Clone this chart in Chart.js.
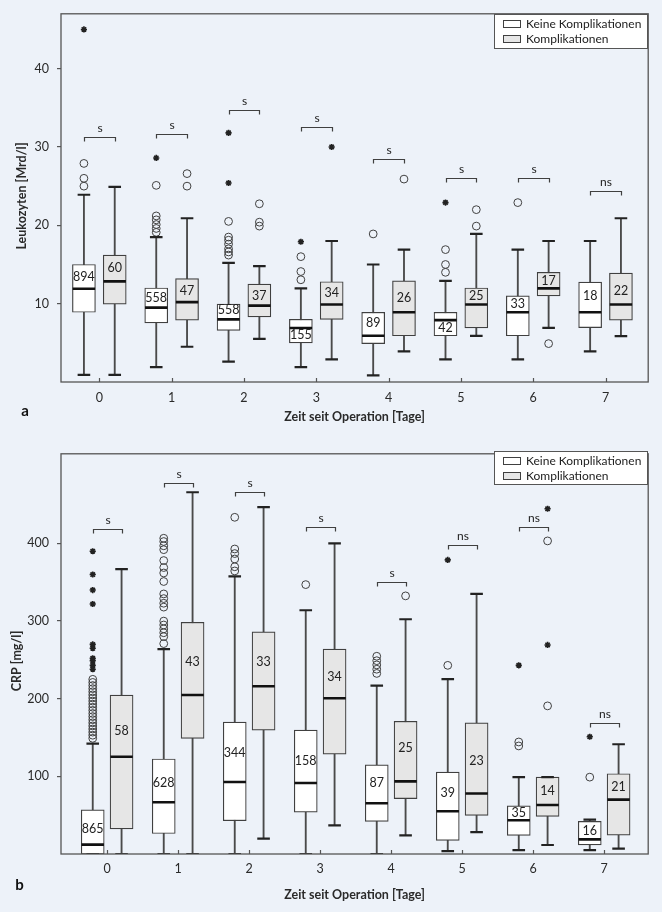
<!DOCTYPE html>
<html lang="de">
  <head>
    <meta charset="UTF-8" />
    <title>Leukozyten und CRP</title>
    <style>
      body { margin: 0; background: #edf2f9; overflow: hidden; }
      .panel { position: absolute; left: 0; }
    </style>
  </head>
  <body>
    <div class="panel" style="top: 0"><canvas id="chartA" width="662" height="440"></canvas></div>
    <div class="panel" style="top: 440px"><canvas id="chartB" width="662" height="472"></canvas></div>

    <script src="https://cdn.jsdelivr.net/npm/chart.js"></script>

    <script>
      // x categories: days after surgery
      const days = [0, 1, 2, 3, 4, 5, 6, 7];
      const groups = ["Keine Komplikationen", "Komplikationen"];

      // Leukozyten [Mrd/l], per day: [min, q1, median, q3, max]
      const leukoKeine = [
        [0.9, 8.9, 11.9, 15.0, 23.9],
        [1.9, 7.55, 9.5, 12.0, 18.5],
        [2.6, 6.6, 8.0, 9.95, 15.2],
        [1.9, 5.0, 6.9, 8.0, 11.95],
        [0.85, 4.9, 5.9, 8.9, 15.0],
        [2.9, 5.9, 7.9, 8.9, 12.9],
        [2.9, 5.9, 8.9, 11.0, 16.9],
        [3.9, 6.95, 8.9, 12.75, 18.0],
      ];
      const leukoKompl = [
        [0.9, 9.95, 12.85, 16.2, 24.9],
        [4.5, 7.9, 10.2, 13.2, 20.9],
        [5.5, 8.3, 9.75, 12.5, 14.8],
        [2.9, 8.0, 9.9, 12.8, 18.0],
        [3.9, 5.9, 8.9, 12.9, 16.9],
        [5.9, 6.9, 9.9, 12.0, 18.9],
        [6.9, 11.0, 11.95, 14.0, 18.0],
        [5.85, 7.9, 9.9, 13.9, 20.9],
      ];
      const leukoNKeine = [894, 558, 558, 155, 89, 42, 33, 18];
      const leukoNKompl = [60, 47, 37, 34, 26, 25, 17, 22];
      const leukoCirclesKeine = [
        [27.9, 26.0, 25.0],
        [25.1, 21.2, 20.7, 20.1, 19.6, 19.1],
        [20.5, 18.5, 18.1, 17.6, 17.0, 16.6, 16.2],
        [16.0, 14.1, 13.05],
        [18.9],
        [16.9, 15.0, 14.0],
        [22.9],
        [],
      ];
      const leukoStarsKeine = [[45.0], [28.6], [31.8, 25.4], [17.9], [], [22.9], [], []];
      const leukoCirclesKompl = [[], [26.6, 25.0], [22.75, 20.4, 19.9], [], [25.9], [22.0, 19.9], [4.9], []];
      const leukoStarsKompl = [[], [], [], [30.0], [], [], [], []];
      const leukoSig = ["s", "s", "s", "s", "s", "s", "s", "ns"];
      const leukoTicks = [10, 20, 30, 40];

      // CRP [mg/l], per day: [min, q1, median, q3, max]
      const crpKeine = [
        [0, 0, 12.1, 56.9, 142.2],
        [0, 26.4, 66.6, 122.4, 264],
        [0, 42.9, 92.8, 170, 357.7],
        [0, 53.9, 91.5, 159.5, 314],
        [0, 42, 65.3, 114.7, 217],
        [3.7, 17.6, 55.1, 105.4, 225.3],
        [4.9, 23.9, 43.4, 61.9, 99],
        [4.9, 11.7, 18.9, 42, 44.2],
      ];
      const crpKompl = [
        [0, 32.4, 125.3, 204.8, 367],
        [0, 149, 204.8, 298.5, 466],
        [19.7, 159.5, 216, 286.2, 446.8],
        [36.9, 128.5, 200.7, 264, 400],
        [24, 71.3, 93.6, 170.9, 302.4],
        [28.2, 49.7, 78, 168.8, 335],
        [11.6, 48.4, 63.2, 99, 99],
        [7, 24.4, 70, 103.4, 141.4],
      ];
      const crpNKeine = [865, 628, 344, 158, 87, 39, 35, 16];
      const crpNKompl = [58, 43, 33, 34, 25, 23, 14, 21];
      const crpCirclesKeine = [
        [225, 221, 217, 213, 209, 205, 201, 197, 193, 189, 185, 181, 177, 173, 169, 165, 161, 157, 153, 149],
        [406.7, 402.5, 397, 392, 378, 369, 362, 351, 335, 329, 323, 318, 300, 295, 290, 285, 280, 271],
        [433.7, 392.9, 387, 380, 370, 364.6],
        [347],
        [254.7, 249, 243.6, 238, 232.6],
        [243],
        [144.3, 139.2],
        [99],
      ];
      const crpStarsKeine = [
        [390, 360, 340, 322, 270, 265, 252, 249, 243, 238],
        [], [], [], [],
        [378.8],
        [243],
        [151],
      ];
      const crpCirclesKompl = [[], [], [], [], [332.5], [], [403.3, 190.8], []];
      const crpStarsKompl = [[], [], [], [], [], [], [444.7, 269.3], []];
      const crpSig = ["s", "s", "s", "s", "s", "ns", "ns", "ns"];
      const crpTicks = [100, 200, 300, 400];

      // placement of the annotations (value on the y axis)
      const leukoNPosKeine = [13.4, 10.7, 9.25, 5.95, 7.55, 6.85, 10.0, 11.0];
      const leukoNPosKompl = [14.5, 11.65, 11.0, 11.4, 10.7, 10.95, 12.85, 11.65];
      const leukoSigPos = [31.3, 31.7, 34.7, 32.5, 28.5, 26.1, 26.1, 24.4];
      const crpNPosKeine = [32.8, 92, 129.5, 120, 91.9, 78.4, 52.6, 29.4];
      const crpNPosKompl = [159, 247.8, 247.8, 228.6, 137.1, 120.2, 81.3, 86.5];
      const crpSigPos = [418, 478, 466.7, 421.5, 350.5, 398.2, 421.5, 168.8];

      const FONT = "Lato";
      const INK = "#404040";
      const FILL_KEINE = "#ffffff";
      const FILL_KOMPL = "#e6e6e6";

      Chart.defaults.font.family = FONT;
      Chart.defaults.color = "#2a2a2a";

      function makeChart(id, p) {
        const off = p.offset;
        const stems = (arr, sign) => arr.map((b, i) => ({ x: days[i] + sign * off, y: [b[0], b[4]] }));
        const boxes = (arr, sign) => arr.map((b, i) => ({ x: days[i] + sign * off, y: [b[1], b[3]] }));
        const pts = (arr, sign, k) => arr.map((b, i) => ({ x: days[i] + sign * off, y: b[k] }));
        const outl = (arr, sign) => arr.flatMap((list, i) => list.map((v) => ({ x: days[i] + sign * off, y: v })));

        const stemDs = (data) => ({
          type: "bar", data, grouped: false, barThickness: 1.2,
          backgroundColor: "#4a4a4a", borderWidth: 0, order: 10,
        });
        const boxDs = (label, data, fill) => ({
          type: "bar", label, data, grouped: false, barThickness: 23,
          backgroundColor: fill, borderColor: INK, borderWidth: 1.2,
          borderSkipped: false, order: 5,
        });
        const markDs = (data, style, r, w, color, fill) => ({
          type: "scatter", data, pointStyle: style, pointRadius: r,
          pointBorderWidth: w, pointBorderColor: color,
          pointBackgroundColor: fill || "rgba(0,0,0,0)", order: 1,
        });

        const a = p.keine, b = p.kompl;
        const datasets = [
          stemDs(stems(a, -1)),
          stemDs(stems(b, 1)),
          boxDs(groups[0], boxes(a, -1), FILL_KEINE),
          boxDs(groups[1], boxes(b, 1), FILL_KOMPL),
          markDs([...pts(a, -1, 2), ...pts(b, 1, 2)], "line", 11.2, 2.6, "#111"),
          markDs([...pts(a, -1, 0), ...pts(a, -1, 4), ...pts(b, 1, 0), ...pts(b, 1, 4)], "line", 6.3, 2.2, "#222"),
          markDs([...outl(p.circlesKeine, -1), ...outl(p.circlesKompl, 1)], "circle", 3.9, 1, INK),
          markDs([...outl(p.starsKeine, -1), ...outl(p.starsKompl, 1)], "star", 3.1, 1.6, "#222"),
        ];

        const annotations = {
          id: "annotations",
          afterDatasetsDraw(chart) {
            const { ctx, chartArea: ca, scales: { x, y } } = chart;
            ctx.save();
            // n per box
            ctx.font = "12.5px " + FONT;
            ctx.fillStyle = "#222";
            ctx.textAlign = "center";
            ctx.textBaseline = "middle";
            days.forEach((d, i) => {
              ctx.fillText(String(p.nKeine[i]), x.getPixelForValue(d - off), y.getPixelForValue(p.nPosKeine[i]));
              ctx.fillText(String(p.nKompl[i]), x.getPixelForValue(d + off), y.getPixelForValue(p.nPosKompl[i]));
            });
            // significance brackets
            ctx.strokeStyle = INK;
            ctx.lineWidth = 1.2;
            ctx.font = "12px " + FONT;
            days.forEach((d, i) => {
              const x1 = Math.round(x.getPixelForValue(d - off)) + 0.5;
              const x2 = Math.round(x.getPixelForValue(d + off)) + 0.5;
              const yy = Math.round(y.getPixelForValue(p.sigPos[i])) + 0.5;
              ctx.beginPath();
              ctx.moveTo(x1, yy + 4);
              ctx.lineTo(x1, yy);
              ctx.lineTo(x2, yy);
              ctx.lineTo(x2, yy + 4);
              ctx.stroke();
              ctx.fillText(p.sig[i], (x1 + x2) / 2, yy - 9);
            });
            // frame and inward x ticks
            ctx.strokeStyle = "#555";
            ctx.lineWidth = 1.3;
            ctx.strokeRect(ca.left, ca.top, ca.right - ca.left, ca.bottom - ca.top);
            ctx.lineWidth = 1.2;
            days.forEach((d) => {
              const px = Math.round(x.getPixelForValue(d)) + 0.5;
              ctx.beginPath();
              ctx.moveTo(px, ca.bottom);
              ctx.lineTo(px, ca.bottom - 4);
              ctx.stroke();
            });
            // legend
            const L = p.legend;
            ctx.fillStyle = "#fff";
            ctx.fillRect(L.x, L.y, L.w, L.h);
            ctx.strokeStyle = "#555";
            ctx.lineWidth = 1;
            ctx.strokeRect(L.x + 0.5, L.y + 0.5, L.w, L.h);
            ctx.font = "12px " + FONT;
            ctx.textAlign = "left";
            [FILL_KEINE, FILL_KOMPL].forEach((fill, k) => {
              const cy = L.y + 10 + k * 15;
              ctx.fillStyle = fill;
              ctx.fillRect(L.x + 9, cy - 3.5, 17, 7);
              ctx.strokeStyle = INK;
              ctx.strokeRect(L.x + 9.5, cy - 3.5, 17, 7);
              ctx.fillStyle = "#222";
              ctx.fillText(groups[k], L.x + 32, cy);
            });
            // y axis title
            ctx.save();
            ctx.translate(p.yTitleX, p.yTitleY);
            ctx.rotate(-Math.PI / 2);
            ctx.font = "bold 12.5px " + FONT;
            ctx.textAlign = "center";
            ctx.fillStyle = "#2a2a2a";
            ctx.fillText(p.yTitle, 0, 0);
            ctx.restore();
            // panel letter
            ctx.font = "bold 15px " + FONT;
            ctx.textAlign = "center";
            ctx.fillStyle = "#111";
            ctx.fillText(p.letter, p.letterX, p.letterY);
            ctx.restore();
          },
        };

        return new Chart(document.getElementById(id), {
          type: "bar",
          data: { datasets },
          plugins: [annotations],
          options: {
            responsive: false,
            animation: false,
            events: [],
            layout: { padding: { top: p.top, right: 10, left: 0, bottom: 0 } },
            plugins: { legend: { display: false }, tooltip: { enabled: false } },
            scales: {
              x: {
                type: "linear",
                min: p.xMin,
                max: p.xMax,
                offset: false,
                afterBuildTicks: (s) => { s.ticks = days.map((v) => ({ value: v })); },
                afterFit: (s) => {
                  s.height = p.xHeight;
                  s.paddingLeft = 0;
                  s.paddingRight = 0;
                },
                grid: { display: false, offset: false, drawTicks: false, tickLength: 0 },
                border: { display: false },
                ticks: { font: { size: 12.5 }, padding: p.xTickPad, maxRotation: 0 },
                title: {
                  display: true,
                  text: "Zeit seit Operation [Tage]",
                  font: { size: 12.5, weight: "bold" },
                  padding: { bottom: p.xTitlePad },
                },
              },
              y: {
                min: p.yMin,
                max: p.yMax,
                afterBuildTicks: (s) => { s.ticks = p.ticks.map((v) => ({ value: v })); },
                afterFit: (s) => {
                  s.width = 61;
                  s.paddingTop = 0;
                  s.paddingBottom = 0;
                },
                grid: { drawOnChartArea: false, drawTicks: true, tickLength: 4, color: "#555", lineWidth: 1.2 },
                border: { display: false },
                ticks: { font: { size: 12.5 }, padding: 8 },
              },
            },
          },
        });
      }

      makeChart("chartA", {
        keine: leukoKeine, kompl: leukoKompl,
        nKeine: leukoNKeine, nKompl: leukoNKompl,
        nPosKeine: leukoNPosKeine, nPosKompl: leukoNPosKompl,
        circlesKeine: leukoCirclesKeine, circlesKompl: leukoCirclesKompl,
        starsKeine: leukoStarsKeine, starsKompl: leukoStarsKompl,
        sig: leukoSig, sigPos: leukoSigPos, ticks: leukoTicks,
        offset: 0.213, xMin: -0.53, xMax: 7.59, yMin: 0, yMax: 47.0,
        top: 10, xHeight: 58, xTickPad: 8.5, xTitlePad: 15.5,
        yTitle: "Leukozyten [Mrd/l]", yTitleX: 22, yTitleY: 196,
        legend: { x: 494, y: 14, w: 153, h: 34 },
        letter: "a", letterX: 25, letterY: 411,
      });

      makeChart("chartB", {
        keine: crpKeine, kompl: crpKompl,
        nKeine: crpNKeine, nKompl: crpNKompl,
        nPosKeine: crpNPosKeine, nPosKompl: crpNPosKompl,
        circlesKeine: crpCirclesKeine, circlesKompl: crpCirclesKompl,
        starsKeine: crpStarsKeine, starsKompl: crpStarsKompl,
        sig: crpSig, sigPos: crpSigPos, ticks: crpTicks,
        offset: 0.203, xMin: -0.65, xMax: 7.62, yMin: 0, yMax: 515.5,
        top: 5, xHeight: 58, xTickPad: 7, xTitlePad: 9.5,
        yTitle: "CRP [mg/l]", yTitleX: 17, yTitleY: 221,
        legend: { x: 494, y: 11, w: 153, h: 33 },
        letter: "b", letterX: 19.5, letterY: 445,
      });
    </script>
  </body>
</html>
